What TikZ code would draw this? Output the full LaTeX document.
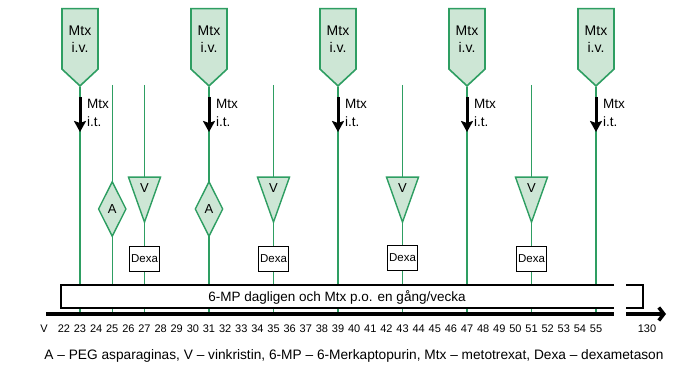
\documentclass[tikz,border=0pt]{standalone}
\usepackage{fontspec}
\setmainfont{Liberation Sans}
\usetikzlibrary{arrows.meta,positioning,shapes,backgrounds}

\definecolor{medgreen}{RGB}{46,158,98}
\definecolor{palegreen}{RGB}{205,230,213}

\begin{document}
\begin{tikzpicture}[
  x=1pt, y=-1pt,
  ivbox/.style={signal, signal to=south, signal pointer angle=94, draw=medgreen, fill=palegreen, line width=1.6pt, align=center, minimum width=36pt, minimum height=71pt, inner sep=0pt, font=\fontsize{14}{17}\selectfont},
  vtri/.style={isosceles triangle, isosceles triangle stretches, shape border rotate=270, draw=medgreen, fill=palegreen, line width=1.4pt, minimum width=32pt, minimum height=45pt, inner sep=0pt, font=\fontsize{13}{14}\selectfont},
  adiam/.style={diamond, draw=medgreen, fill=palegreen, line width=1.4pt, minimum width=28pt, minimum height=55pt, inner sep=0pt, font=\fontsize{13}{14}\selectfont},
  dexa/.style={rectangle, draw=black, fill=white, line width=1.4pt, minimum width=30pt, minimum height=25pt, inner sep=0pt, font=\fontsize{11.5}{12}\selectfont},
  itlabel/.style={align=left, inner sep=0pt, font=\fontsize{13.5}{18}\selectfont},
  week/.style={draw=medgreen, line width=1.2pt},
  itarrow/.style={-{Stealth[length=11pt, width=12pt, inset=2pt]}, line width=3pt},
  bar/.style={draw=black, line width=1.8pt},
  tick/.style={font=\fontsize{11}{12}\selectfont, inner sep=0pt}
]
\useasboundingbox (0,0) rectangle (697,371);

% Mtx i.v. and Mtx i.t. every 8 weeks
\foreach \w in {23,31,39,47,55} {
  \node[ivbox, anchor=south] (iv\w) at ({80+(\w-23)*16.125},87) {Mtx\\i.v.};
  \coordinate (ax\w) at ({80+(\w-23)*16.125},313);
  \coordinate (ita\w) at ({80+(\w-23)*16.125},97);
  \coordinate (itb\w) at ({80+(\w-23)*16.125},132);
  \node[itlabel, anchor=west] (it\w) at ({87+(\w-23)*16.125},113) {Mtx\\i.t.};
  \draw[itarrow] (ita\w) -- (itb\w);
}

% weeks with only V / A / Dexa
\coordinate (top25) at (112.25,85);   \coordinate (ax25) at (112.25,313);
\coordinate (top27) at (144.5,85);    \coordinate (ax27) at (144.5,313);
\coordinate (top35) at (273.5,85);    \coordinate (ax35) at (273.5,313);
\coordinate (top43) at (402.5,85);    \coordinate (ax43) at (402.5,313);
\coordinate (top51) at (531.5,85);    \coordinate (ax51) at (531.5,313);

\node[adiam] (a25) at (112.25,209) {A};
\node[adiam] (a31) at (209,209) {A};
\node[vtri, anchor=apex] (v27) at (144.5,224) {V};
\node[vtri, anchor=apex] (v35) at (273.5,224) {V};
\node[vtri, anchor=apex] (v43) at (402.5,224) {V};
\node[vtri, anchor=apex] (v51) at (531.5,224) {V};
\node[dexa] (d27) at (144.5,259) {Dexa};
\node[dexa] (d35) at (273.5,259) {Dexa};
\node[dexa] (d43) at (402.5,258) {Dexa};
\node[dexa] (d51) at (531.5,259) {Dexa};

\begin{scope}[on background layer]
  \foreach \w in {23,31,39,47,55} \draw[week] (iv\w.south) -- (ax\w);
  \foreach \w in {25,27,35,43,51} \draw[week] (top\w) -- (ax\w);
\end{scope}

% daily 6-MP bar, broken before week 130
\draw[bar, fill=white] (614,285) -- (61,285) -- (61,308) -- (614,308);
\draw[bar] (626,285) -- (643,285) -- (643,308) -- (626,308);
\node[font=\fontsize{13.5}{15}\selectfont] (mp) at (337,297) {6-MP dagligen och Mtx p.o. en gång/vecka};

% time axis
\coordinate (axl) at (46,314);
\coordinate (axm) at (614,314);
\coordinate (axn) at (626,314);
\coordinate (axr) at (666,314);
\draw[line width=3.5pt] (axl) -- (axm);
\draw[line width=3.5pt, -{Straight Barb[length=5pt, width=13pt]}] (axn) -- (axr);

\node[tick] (tV) at (44,329) {V};
\foreach \w in {22,...,55} \node[tick] (t\w) at ({80+(\w-23)*16.125},329) {\w};
\node[tick] (t130) at (647,329) {130};

\node[font=\fontsize{13.7}{15}\selectfont] (key) at (354,356) {A – PEG asparaginas, V – vinkristin, 6-MP – 6-Merkaptopurin, Mtx – metotrexat, Dexa – dexametason};
\end{tikzpicture}
\end{document}
